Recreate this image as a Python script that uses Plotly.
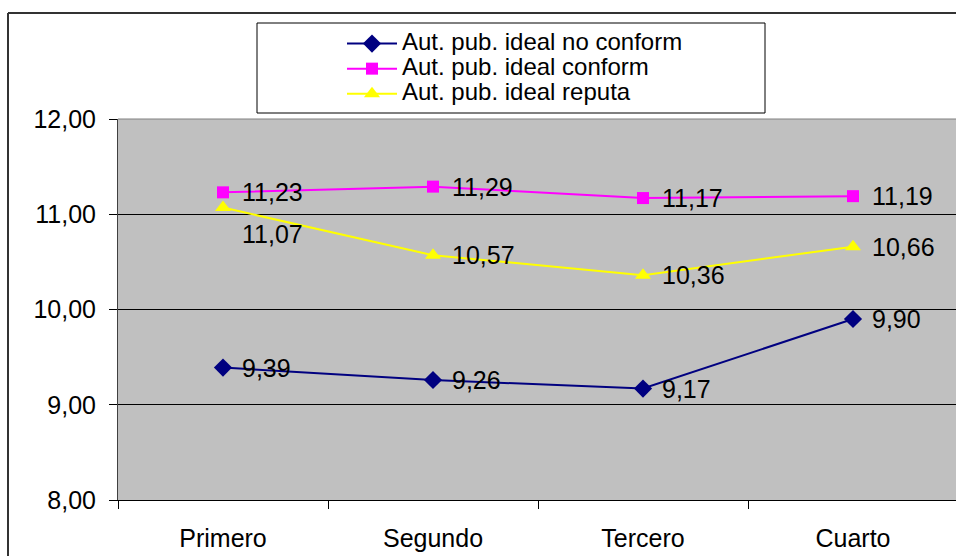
import plotly.graph_objects as go

# Quarterly means for three groups
categories = ["Primero", "Segundo", "Tercero", "Cuarto"]
no_conform = [9.39, 9.26, 9.17, 9.90]
conform = [11.23, 11.29, 11.17, 11.19]
reputa = [11.07, 10.57, 10.36, 10.66]
series_names = ["Aut. pub. ideal no conform", "Aut. pub. ideal conform", "Aut. pub. ideal reputa"]
y_ticks = [8, 9, 10, 11, 12]

W, H = 956, 556
L, T, B = 118, 119, 56
plot_w = W - L
plot_h = H - T - B


def px_x(p):
    return (p - L) / plot_w


def px_y(q):
    return (H - B - q) / plot_h


def fmt(v):
    return f"{v:.2f}".replace(".", ",")


FONT = "Liberation Sans, Arial, sans-serif"
TXT = 25
LEG_TXT = 24

styles = [
    dict(color="#000080", symbol="diamond", size=14),
    dict(color="#FF00FF", symbol="square", size=12),
    dict(color="#FFFF00", symbol="triangle-up", size=14),
]

fig = go.Figure()
for name, vals, st in zip(series_names, [no_conform, conform, reputa], styles):
    fig.add_trace(go.Scatter(
        x=categories, y=vals,
        name=f'<span style="font-size:{LEG_TXT}px">{name}</span>',
        mode="lines+markers",
        line=dict(color=st["color"], width=2),
        marker=dict(color=st["color"], symbol=st["symbol"], size=st["size"],
                    line=dict(width=0)),
        hoverinfo="skip",
    ))

annotations = []
for vals in [no_conform, conform, reputa]:
    for i, (c, v) in enumerate(zip(categories, vals)):
        yshift = 0
        if vals is reputa and i == 0:
            yshift = -26
        annotations.append(dict(
            x=c, y=v, text=fmt(v), showarrow=False, xanchor="left", yanchor="middle",
            xshift=17, yshift=yshift, font=dict(family=FONT, size=TXT, color="black"),
        ))

shapes = [
    # outer chart frame (left and top edges)
    dict(type="line", xref="paper", yref="paper",
         x0=px_x(8), x1=px_x(8), y0=px_y(600), y1=px_y(13),
         line=dict(color="#333333", width=2)),
    dict(type="line", xref="paper", yref="paper",
         x0=px_x(8), x1=px_x(1000), y0=px_y(13), y1=px_y(13),
         line=dict(color="#333333", width=2)),
    # legend frame
    dict(type="rect", xref="paper", yref="paper",
         x0=px_x(257), x1=px_x(765), y0=px_y(113), y1=px_y(23),
         line=dict(color="black", width=1), fillcolor="white", layer="below"),
    # top edge of plot area
    dict(type="line", xref="paper", yref="paper", x0=0, x1=1, y0=1, y1=1,
         line=dict(color="#808080", width=1)),
]

fig.update_layout(
    width=W, height=H,
    margin=dict(l=L, r=0, t=T, b=B),
    paper_bgcolor="white",
    plot_bgcolor="#C0C0C0",
    separators=",.",
    font=dict(family=FONT, size=TXT, color="black"),
    showlegend=True,
    legend=dict(
        x=px_x(342), y=px_y(26), xanchor="left", yanchor="top",
        bgcolor="rgba(0,0,0,0)", borderwidth=0,
        font=dict(family=FONT, size=17, color="black"),
        tracegroupgap=0, itemsizing="trace", itemwidth=50,
    ),
    annotations=annotations,
    shapes=shapes,
)

fig.update_xaxes(
    type="category", range=[-0.5, -0.5 + plot_w / 210.0],
    showgrid=False, showline=True, linecolor="black", linewidth=1,
    ticks="outside", ticklen=8, tickcolor="black", tickson="boundaries",
    ticklabelstandoff=16, tickfont=dict(family=FONT, size=TXT, color="black"),
    zeroline=False, fixedrange=True,
)
fig.update_yaxes(
    range=[8, 12], tickvals=y_ticks, tickformat=".2f",
    showgrid=True, gridcolor="black", gridwidth=1,
    showline=True, linecolor="#404040", linewidth=1,
    ticks="outside", ticklen=8, tickcolor="black",
    ticklabelstandoff=8, tickfont=dict(family=FONT, size=TXT, color="black"),
    zeroline=False, fixedrange=True,
)

fig.write_html("out.html", config={"displayModeBar": False})
